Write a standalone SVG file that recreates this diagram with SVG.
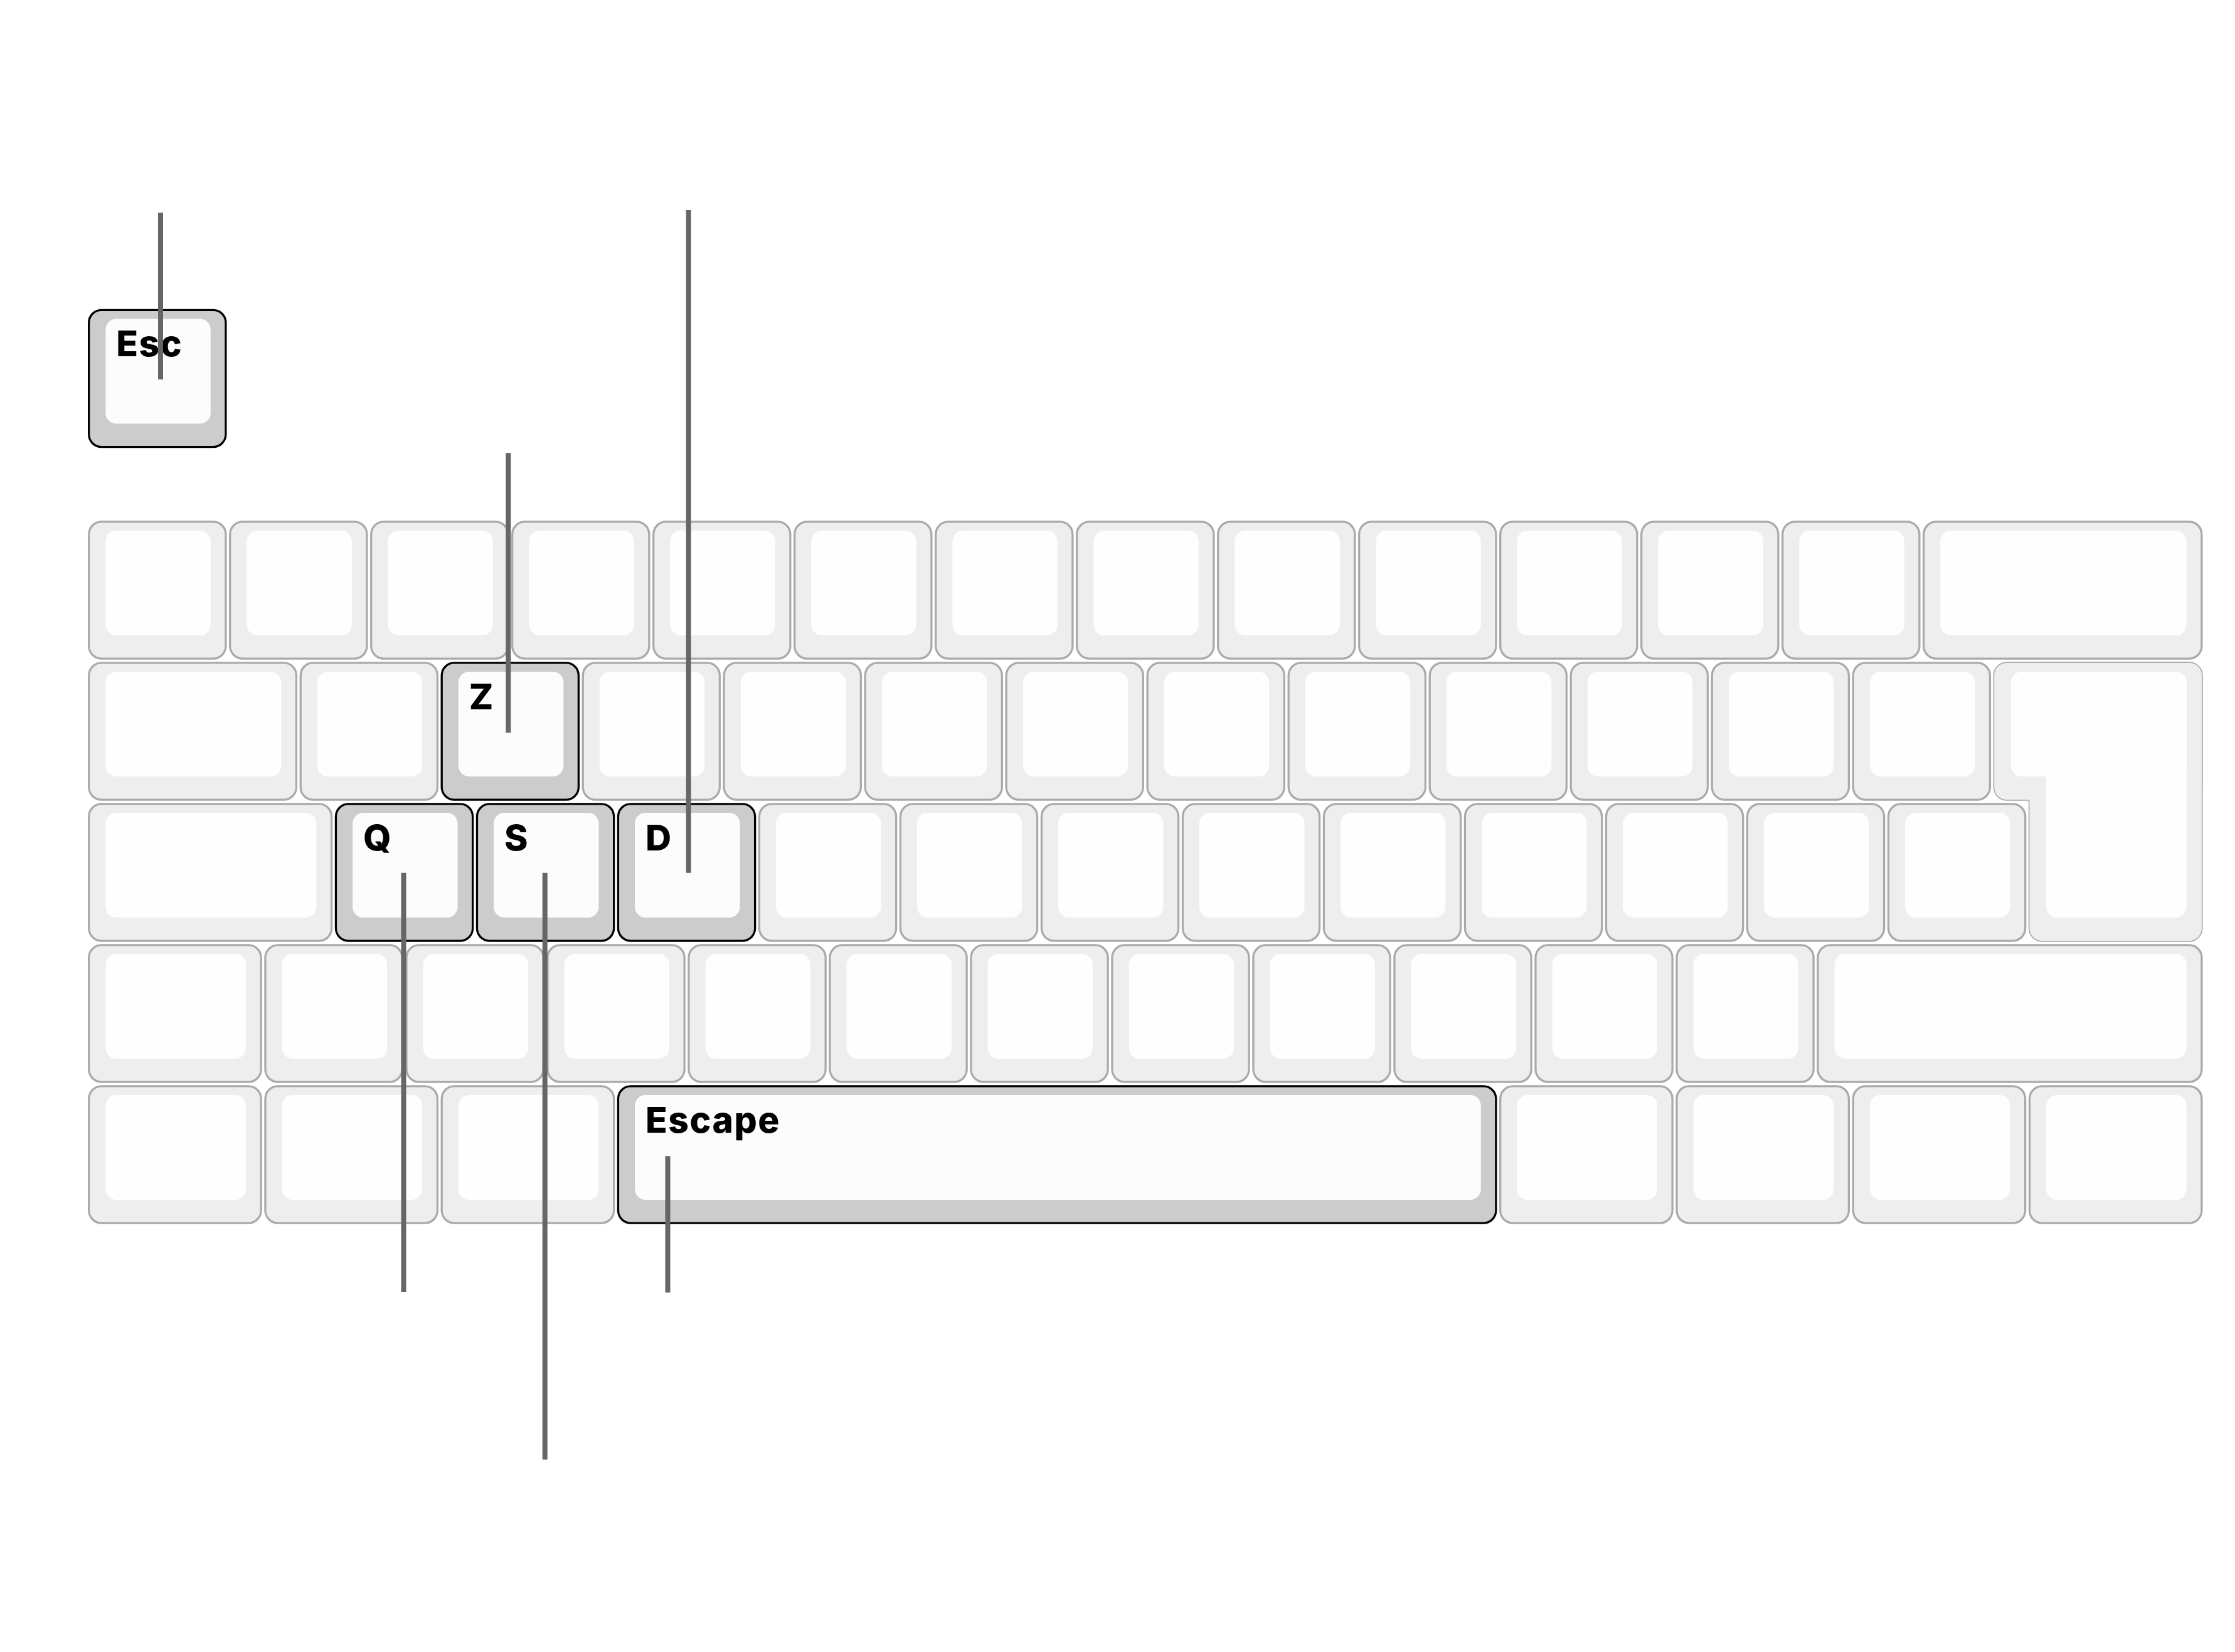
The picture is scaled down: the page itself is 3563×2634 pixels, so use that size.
<svg xmlns="http://www.w3.org/2000/svg" width="3563" height="2634" viewBox="0 0 3563 2634">
<style>
.o{fill:#eeeeee;stroke:#aaaaaa;stroke-width:3.3}
.f{fill:#eeeeee;stroke:none}
.i{fill:#fefefe}
.sel .o{fill:#cccccc;stroke:#000000}
.sel .i{fill:#fcfcfc}
.lbl{font-family:Inter,"Liberation Sans",sans-serif;font-weight:800;font-size:57px;letter-spacing:1.5px;fill:#000000}
.conn line{stroke:#666666;stroke-width:8}
</style>
<defs>
<g id="u1"><rect class="o" x="3.4" y="3.4" width="218.2" height="218.2" rx="20"/><rect class="i" x="30" y="17.5" width="167.5" height="167" rx="17"/></g>
<g id="u125"><rect class="o" x="3.4" y="3.4" width="274.45" height="218.2" rx="20"/><rect class="i" x="30" y="17.5" width="223.75" height="167" rx="17"/></g>
</defs>
<rect width="3563" height="2634" fill="#ffffff"/>
<g id="keys">
<g id="key-esc" class="sel" transform="translate(138.3,491)"><rect class="o" x="3.4" y="3.4" width="218.2" height="218.2" rx="20"/><rect class="i" x="30" y="17.5" width="167.5" height="167" rx="17"/><text class="lbl" x="47" y="77">Esc</text></g>

<g id="r1k0" transform="translate(138.3,828.5)"><use href="#u1"/></g>
<g id="r1k1" transform="translate(363.3,828.5)"><use href="#u1"/></g>
<g id="r1k2" transform="translate(588.3,828.5)"><use href="#u1"/></g>
<g id="r1k3" transform="translate(813.3,828.5)"><use href="#u1"/></g>
<g id="r1k4" transform="translate(1038.3,828.5)"><use href="#u1"/></g>
<g id="r1k5" transform="translate(1263.3,828.5)"><use href="#u1"/></g>
<g id="r1k6" transform="translate(1488.3,828.5)"><use href="#u1"/></g>
<g id="r1k7" transform="translate(1713.3,828.5)"><use href="#u1"/></g>
<g id="r1k8" transform="translate(1938.3,828.5)"><use href="#u1"/></g>
<g id="r1k9" transform="translate(2163.3,828.5)"><use href="#u1"/></g>
<g id="r1k10" transform="translate(2388.3,828.5)"><use href="#u1"/></g>
<g id="r1k11" transform="translate(2613.3,828.5)"><use href="#u1"/></g>
<g id="r1k12" transform="translate(2838.3,828.5)"><use href="#u1"/></g>
<g id="r1k13" transform="translate(3063.3,828.5)"><rect class="o" x="3.4" y="3.4" width="443.2" height="218.2" rx="20"/><rect class="i" x="30" y="17.5" width="392.5" height="167" rx="17"/></g>

<g id="r2k0" transform="translate(138.3,1053.5)"><rect class="o" x="3.4" y="3.4" width="330.7" height="218.2" rx="20"/><rect class="i" x="30" y="17.5" width="280" height="167" rx="17"/></g>
<g id="r2k1" transform="translate(475.8,1053.5)"><use href="#u1"/></g>
<g id="key-z" class="sel" transform="translate(700.8,1053.5)"><rect class="o" x="3.4" y="3.4" width="218.2" height="218.2" rx="20"/><rect class="i" x="30" y="17.5" width="167.5" height="167" rx="17"/><text class="lbl" x="47" y="77">Z</text></g>
<g id="r2k3" transform="translate(925.8,1053.5)"><use href="#u1"/></g>
<g id="r2k4" transform="translate(1150.8,1053.5)"><use href="#u1"/></g>
<g id="r2k5" transform="translate(1375.8,1053.5)"><use href="#u1"/></g>
<g id="r2k6" transform="translate(1600.8,1053.5)"><use href="#u1"/></g>
<g id="r2k7" transform="translate(1825.8,1053.5)"><use href="#u1"/></g>
<g id="r2k8" transform="translate(2050.8,1053.5)"><use href="#u1"/></g>
<g id="r2k9" transform="translate(2275.8,1053.5)"><use href="#u1"/></g>
<g id="r2k10" transform="translate(2500.8,1053.5)"><use href="#u1"/></g>
<g id="r2k11" transform="translate(2725.8,1053.5)"><use href="#u1"/></g>
<g id="r2k12" transform="translate(2950.8,1053.5)"><use href="#u1"/></g>
<g id="key-enter" transform="translate(3175.8,1053.5)">
<rect class="o" x="3.4" y="3.4" width="330.7" height="218.2" rx="20"/>
<rect class="o" x="59.65" y="3.4" width="274.45" height="443.2" rx="20"/>
<rect class="f" x="3.4" y="3.4" width="330.7" height="218.2" rx="20"/>
<rect class="f" x="59.65" y="3.4" width="274.45" height="443.2" rx="20"/>
<rect class="i" x="30" y="17.5" width="280" height="167" rx="17"/>
<rect class="i" x="86.25" y="17.5" width="223.75" height="392" rx="17"/>
</g>

<g id="r3k0" transform="translate(138.3,1278.5)"><rect class="o" x="3.4" y="3.4" width="386.95" height="218.2" rx="20"/><rect class="i" x="30" y="17.5" width="336.25" height="167" rx="17"/></g>
<g id="key-q" class="sel" transform="translate(532.05,1278.5)"><rect class="o" x="3.4" y="3.4" width="218.2" height="218.2" rx="20"/><rect class="i" x="30" y="17.5" width="167.5" height="167" rx="17"/><text class="lbl" x="47" y="77">Q</text></g>
<g id="key-s" class="sel" transform="translate(757.05,1278.5)"><rect class="o" x="3.4" y="3.4" width="218.2" height="218.2" rx="20"/><rect class="i" x="30" y="17.5" width="167.5" height="167" rx="17"/><text class="lbl" x="47" y="77">S</text></g>
<g id="key-d" class="sel" transform="translate(982.05,1278.5)"><rect class="o" x="3.4" y="3.4" width="218.2" height="218.2" rx="20"/><rect class="i" x="30" y="17.5" width="167.5" height="167" rx="17"/><text class="lbl" x="47" y="77">D</text></g>
<g id="r3k4" transform="translate(1207.05,1278.5)"><use href="#u1"/></g>
<g id="r3k5" transform="translate(1432.05,1278.5)"><use href="#u1"/></g>
<g id="r3k6" transform="translate(1657.05,1278.5)"><use href="#u1"/></g>
<g id="r3k7" transform="translate(1882.05,1278.5)"><use href="#u1"/></g>
<g id="r3k8" transform="translate(2107.05,1278.5)"><use href="#u1"/></g>
<g id="r3k9" transform="translate(2332.05,1278.5)"><use href="#u1"/></g>
<g id="r3k10" transform="translate(2557.05,1278.5)"><use href="#u1"/></g>
<g id="r3k11" transform="translate(2782.05,1278.5)"><use href="#u1"/></g>
<g id="r3k12" transform="translate(3007.05,1278.5)"><use href="#u1"/></g>

<g id="r4k0" transform="translate(138.3,1503.5)"><use href="#u125"/></g>
<g id="r4k1" transform="translate(419.55,1503.5)"><use href="#u1"/></g>
<g id="r4k2" transform="translate(644.55,1503.5)"><use href="#u1"/></g>
<g id="r4k3" transform="translate(869.55,1503.5)"><use href="#u1"/></g>
<g id="r4k4" transform="translate(1094.55,1503.5)"><use href="#u1"/></g>
<g id="r4k5" transform="translate(1319.55,1503.5)"><use href="#u1"/></g>
<g id="r4k6" transform="translate(1544.55,1503.5)"><use href="#u1"/></g>
<g id="r4k7" transform="translate(1769.55,1503.5)"><use href="#u1"/></g>
<g id="r4k8" transform="translate(1994.55,1503.5)"><use href="#u1"/></g>
<g id="r4k9" transform="translate(2219.55,1503.5)"><use href="#u1"/></g>
<g id="r4k10" transform="translate(2444.55,1503.5)"><use href="#u1"/></g>
<g id="r4k11" transform="translate(2669.55,1503.5)"><use href="#u1"/></g>
<g id="r4k12" transform="translate(2894.55,1503.5)"><rect class="o" x="3.4" y="3.4" width="611.95" height="218.2" rx="20"/><rect class="i" x="30" y="17.5" width="561.25" height="167" rx="17"/></g>

<g id="r5k0" transform="translate(138.3,1728.5)"><use href="#u125"/></g>
<g id="r5k1" transform="translate(419.55,1728.5)"><use href="#u125"/></g>
<g id="r5k2" transform="translate(700.8,1728.5)"><use href="#u125"/></g>
<g id="key-escape" class="sel" transform="translate(982.05,1728.5)"><rect class="o" x="3.4" y="3.4" width="1399.45" height="218.2" rx="20"/><rect class="i" x="30" y="17.5" width="1348.75" height="167" rx="17"/><text class="lbl" x="47" y="77">Escape</text></g>
<g id="r5k4" transform="translate(2388.3,1728.5)"><use href="#u125"/></g>
<g id="r5k5" transform="translate(2669.55,1728.5)"><use href="#u125"/></g>
<g id="r5k6" transform="translate(2950.8,1728.5)"><use href="#u125"/></g>
<g id="r5k7" transform="translate(3232.05,1728.5)"><use href="#u125"/></g>
</g>
<g id="connectors" class="conn">
<line x1="256" y1="339" x2="256" y2="605"/>
<line x1="810.3" y1="722.3" x2="810.3" y2="1168.3"/>
<line x1="1097.7" y1="335" x2="1097.7" y2="1391.7"/>
<line x1="643.5" y1="1391.7" x2="643.5" y2="2060"/>
<line x1="868.7" y1="1391.7" x2="868.7" y2="2327.3"/>
<line x1="1064.5" y1="1843.3" x2="1064.5" y2="2060.7"/>
</g>
</svg>
